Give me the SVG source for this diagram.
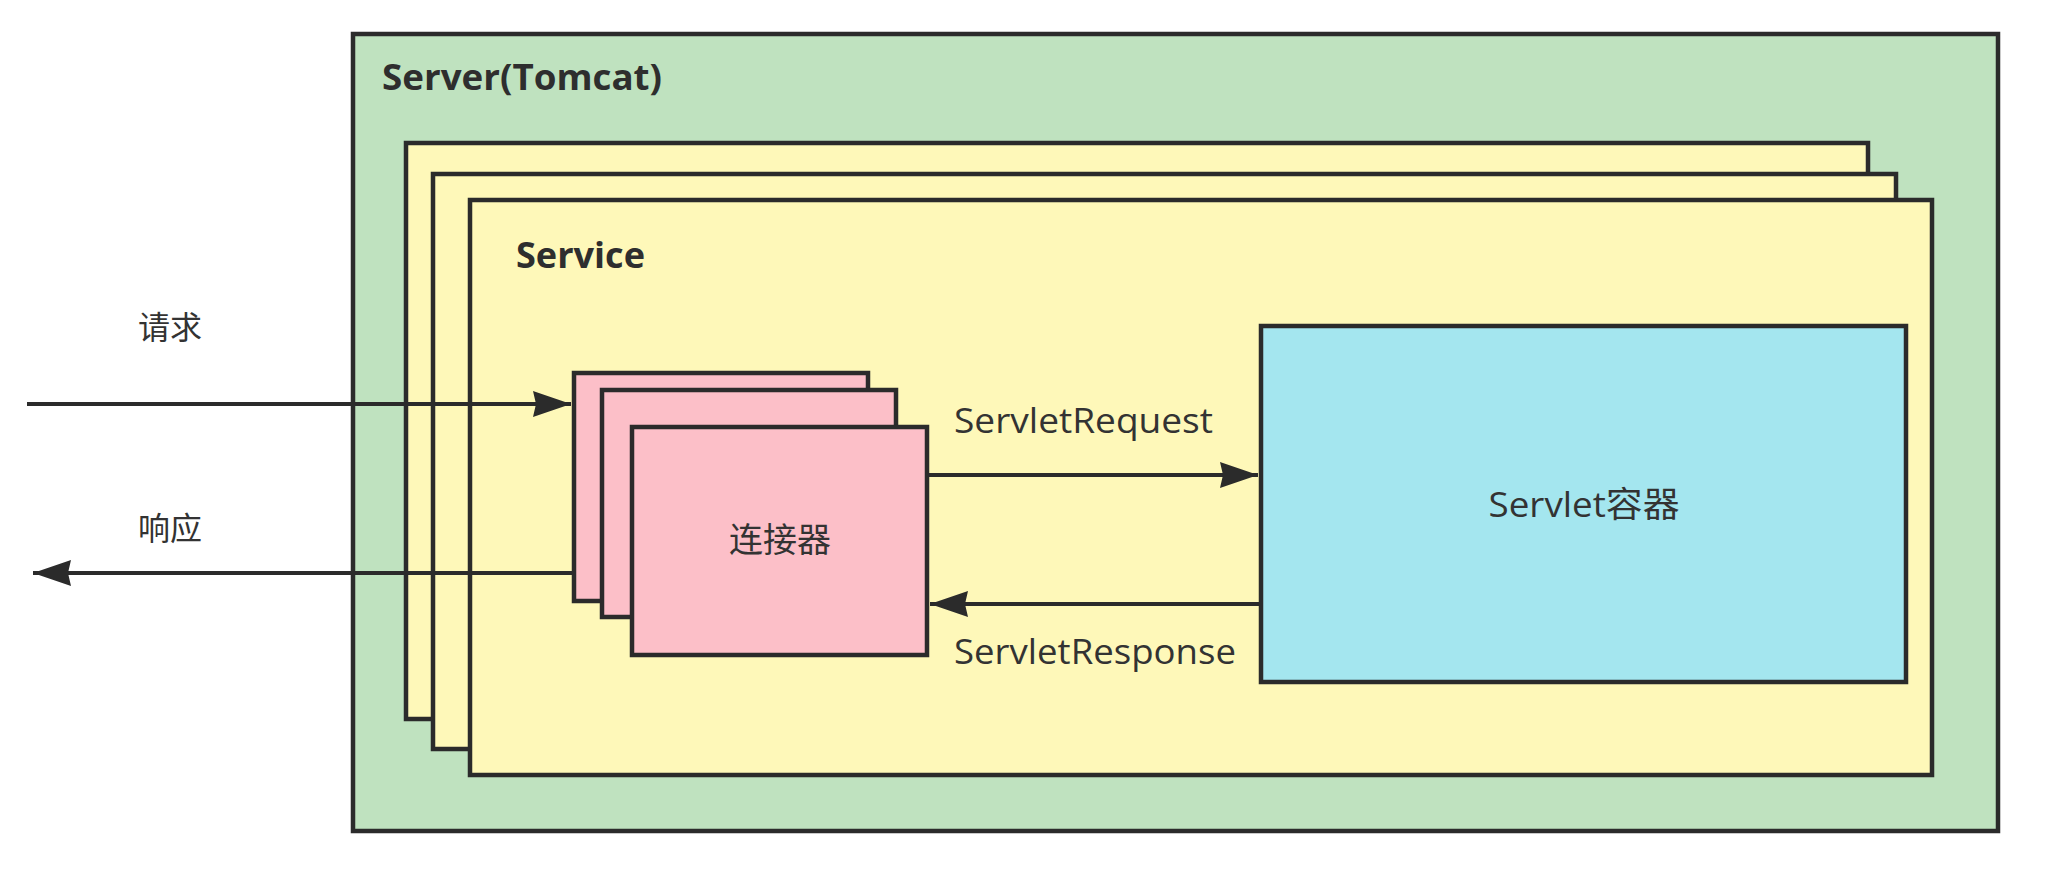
<svg xmlns="http://www.w3.org/2000/svg" width="2058" height="894" viewBox="0 0 2058 894">
<style>
.box{stroke:#2b2b2b;stroke-width:4.5}
.server{fill:#bfe2bf}
.service{fill:#fef8b9}
.conn{fill:#fcbfc8}
.cont{fill:#a4e6ef}
.title{font-family:"Open Sans","Liberation Sans","Noto Sans CJK SC",sans-serif;font-weight:bold;font-size:35px;fill:#2e2e2e}
.lbl{font-family:"Open Sans","Liberation Sans","Noto Sans CJK SC",sans-serif;font-size:35px;fill:#333333}
.cjk{font-family:"Noto Sans CJK SC","Noto Sans",sans-serif;font-size:32px;fill:#333333}
.edge{stroke:#2b2b2b;stroke-width:4;fill:none}
</style>
<defs>
<marker id="arr" markerUnits="userSpaceOnUse" markerWidth="40" markerHeight="30" viewBox="0 0 40 30" refX="38" refY="15" orient="auto">
<path d="M0,2 L38,15 L0,28 L3,15 Z" fill="#2b2b2b"/>
</marker>
</defs>
<rect width="2058" height="894" fill="#ffffff"/>
<g id="server">
<rect class="box server" x="353" y="34" width="1645" height="797"/>
<text class="title" x="382" y="90" textLength="280" lengthAdjust="spacingAndGlyphs">Server(Tomcat)</text>
</g>
<g id="service-3">
<rect class="box service" x="406" y="143" width="1462" height="576"/>
</g>
<g id="service-2">
<rect class="box service" x="433" y="174" width="1463" height="575"/>
</g>
<g id="service">
<rect class="box service" x="470" y="200" width="1462" height="575"/>
<text class="title" x="516" y="268" textLength="129" lengthAdjust="spacingAndGlyphs">Service</text>
</g>
<g id="connector-3">
<rect class="box conn" x="574" y="373" width="294" height="228"/>
</g>
<g id="connector-2">
<rect class="box conn" x="602" y="390" width="294" height="227"/>
</g>
<g id="connector">
<rect class="box conn" x="632" y="427" width="295" height="228"/>
<text class="cjk" x="780" y="552" text-anchor="middle" style="font-size:34px">连接器</text>
</g>
<g id="servlet-container">
<rect class="box cont" x="1261" y="326" width="645" height="356"/>
<text class="lbl" x="1584" y="517" text-anchor="middle" textLength="191" lengthAdjust="spacingAndGlyphs">Servlet容器</text>
</g>
<g id="connectors">
<line class="edge" x1="27" y1="404" x2="571" y2="404" marker-end="url(#arr)"/>
<line class="edge" x1="574" y1="573" x2="33" y2="573" marker-end="url(#arr)"/>
<line class="edge" x1="927" y1="475" x2="1258" y2="475" marker-end="url(#arr)"/>
<line class="edge" x1="1261" y1="604" x2="930" y2="604" marker-end="url(#arr)"/>
<text class="cjk" x="170" y="339" text-anchor="middle">请求</text>
<text class="cjk" x="170" y="540" text-anchor="middle">响应</text>
<text class="lbl" x="954" y="433" textLength="259" lengthAdjust="spacingAndGlyphs">ServletRequest</text>
<text class="lbl" x="954" y="664" textLength="282" lengthAdjust="spacingAndGlyphs">ServletResponse</text>
</g>
</svg>
